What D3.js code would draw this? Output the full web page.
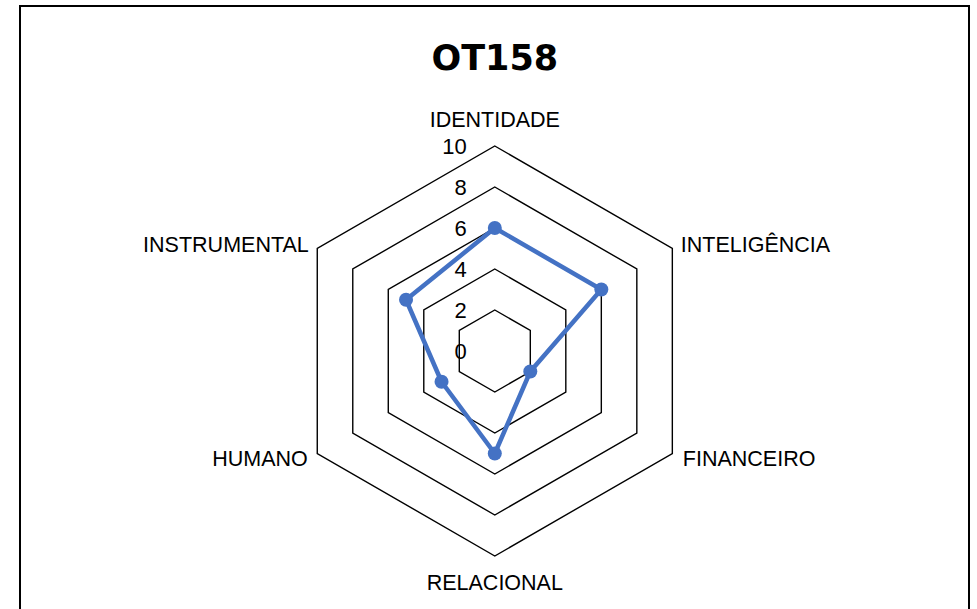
<!DOCTYPE html>
<html>
<head>
<meta charset="utf-8">
<script src="https://cdn.jsdelivr.net/npm/d3@7"></script>
<style>
  html, body { margin: 0; padding: 0; background: #fff; }
  svg { display: block; }
</style>
</head>
<body>
<svg id="chart" width="977" height="609"></svg>
<script>
const title = "OT158";
const categories = ["IDENTIDADE", "INTELIGÊNCIA", "FINANCEIRO", "RELACIONAL", "HUMANO", "INSTRUMENTAL"];
const values = [6, 6, 2, 5, 3, 5];
const tickValues = [0, 2, 4, 6, 8, 10];

const svg = d3.select("#chart");
const W = 977, H = 609;
const cx = 494.8, cy = 351;

// frame (no bottom edge visible)
svg.append("path")
  .attr("d", `M20,${H + 5} L20,6 L969,6 L969,${H + 5}`)
  .attr("fill", "none").attr("stroke", "#000").attr("stroke-width", 2);

svg.append("text")
  .attr("x", cx).attr("y", 70)
  .attr("text-anchor", "middle")
  .attr("font-family", "'DejaVu Sans', sans-serif")
  .attr("font-weight", "bold")
  .attr("font-size", 35)
  .attr("fill", "#000")
  .text(title);

const r = d3.scaleLinear().domain([0, 10]).range([0, 205]);
const angle = d3.scaleLinear().domain([0, categories.length]).range([0, 2 * Math.PI]);
const pt = (i, v) => [cx + r(v) * Math.sin(angle(i)), cy - r(v) * Math.cos(angle(i))];

const g = svg.append("g");

// grid hexagons
const lineClosed = d3.line();
tickValues.filter(t => t > 0).forEach(t => {
  const pts = categories.map((c, i) => pt(i, t));
  g.append("path")
    .attr("d", lineClosed(pts) + "Z")
    .attr("fill", "none").attr("stroke", "#000").attr("stroke-width", 1.4);
});

// tick labels
g.selectAll(".tick").data(tickValues).enter().append("text")
  .attr("x", cx - 28)
  .attr("y", d => cy - r(d))
  .attr("dy", "0.36em")
  .attr("text-anchor", "end")
  .attr("font-family", "'Liberation Sans', Arial, sans-serif")
  .attr("font-size", 22)
  .attr("fill", "#000")
  .text(d => d);

// category labels
const labelPos = [
  { dx: 0, dy: -19, anchor: "middle" },
  { dx: 8.5, dy: 3.5, anchor: "start" },
  { dx: 10.5, dy: 12.5, anchor: "start" },
  { dx: 0, dy: 34, anchor: "middle" },
  { dx: -9.5, dy: 12.5, anchor: "end" },
  { dx: -8.5, dy: 3.5, anchor: "end" }
];
g.selectAll(".cat").data(categories).enter().append("text")
  .attr("x", (d, i) => pt(i, 10)[0] + labelPos[i].dx)
  .attr("y", (d, i) => pt(i, 10)[1] + labelPos[i].dy)
  .attr("text-anchor", (d, i) => labelPos[i].anchor)
  .attr("font-family", "'Liberation Sans', Arial, sans-serif")
  .attr("font-size", 21.5)
  .attr("fill", "#000")
  .text(d => d);

// series
const color = "#4472C4";
const seriesPts = values.map((v, i) => pt(i, v));
g.append("path")
  .attr("d", d3.line()(seriesPts) + "Z")
  .attr("fill", "none").attr("stroke", color)
  .attr("stroke-width", 4.5).attr("stroke-linejoin", "round");
g.selectAll(".dot").data(values).enter().append("circle")
  .attr("cx", (d, i) => pt(i, d)[0])
  .attr("cy", (d, i) => pt(i, d)[1])
  .attr("r", 7)
  .attr("fill", color);
</script>
</body>
</html>
